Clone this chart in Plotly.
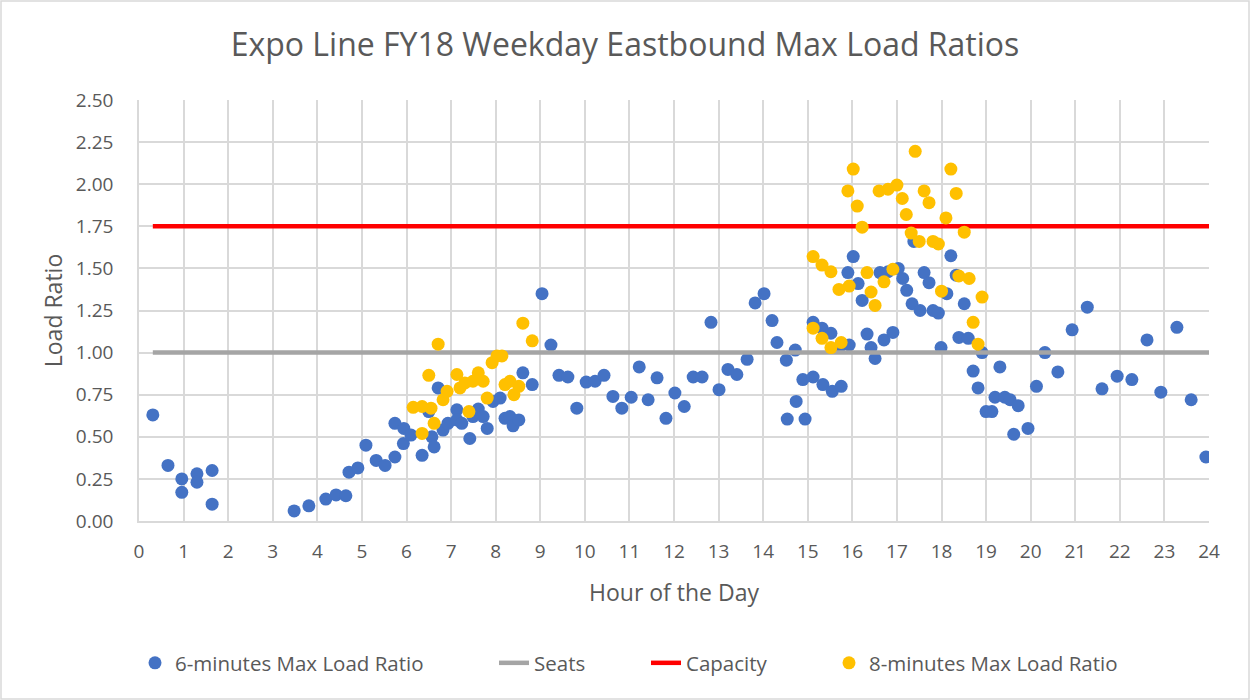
import plotly.graph_objects as go

# 6-minute max load ratio (hour, ratio)
six_x = [0.31, 0.65, 0.96, 0.96, 1.30, 1.30, 1.64, 1.64, 3.48, 3.81, 4.19, 4.42, 4.64, 4.71, 4.91,
         5.09, 5.32, 5.52, 5.74, 5.74, 5.94, 5.93, 6.10, 6.35, 6.50, 6.57, 6.62, 6.71, 6.82, 6.93,
         7.13, 7.13, 7.24, 7.42, 7.49, 7.61, 7.72, 7.81, 7.94, 8.10, 8.21, 8.32, 8.39, 8.52, 8.61,
         8.82, 9.04, 9.24, 9.42, 9.62, 9.82, 10.03, 10.23, 10.43, 10.63, 10.83, 11.04, 11.22, 11.42,
         11.62, 11.82, 12.02, 12.23, 12.43, 12.63, 12.83, 13.01, 13.21, 13.41, 13.64, 13.82, 14.02,
         14.20, 14.31, 14.52, 14.54, 14.72, 14.74, 14.89, 14.94, 15.12, 15.12, 15.32, 15.34, 15.52,
         15.55, 15.72, 15.75, 15.90, 15.93, 16.02, 16.13, 16.22, 16.33, 16.42, 16.51, 16.62, 16.71,
         16.80, 16.91, 17.03, 17.13, 17.22, 17.34, 17.38, 17.52, 17.61, 17.72, 17.81, 17.93, 17.99,
         18.12, 18.21, 18.33, 18.39, 18.51, 18.60, 18.71, 18.82, 18.91, 19.00, 19.13, 19.20, 19.31,
         19.42, 19.54, 19.62, 19.72, 19.94, 20.13, 20.32, 20.61, 20.93, 21.27, 21.60, 21.94, 22.27,
         22.61, 22.92, 23.28, 23.60, 23.93]
six_y = [0.63, 0.33, 0.25, 0.17, 0.28, 0.23, 0.30, 0.10, 0.06, 0.09, 0.13, 0.155, 0.15, 0.29, 0.315,
         0.45, 0.36, 0.33, 0.38, 0.58, 0.55, 0.46, 0.51, 0.39, 0.65, 0.50, 0.44, 0.79, 0.54, 0.58,
         0.66, 0.60, 0.58, 0.49, 0.62, 0.665, 0.62, 0.55, 0.71, 0.73, 0.61, 0.62, 0.565, 0.60, 0.88,
         0.81, 1.35, 1.045, 0.865, 0.855, 0.67, 0.825, 0.83, 0.865, 0.74, 0.67, 0.735, 0.915, 0.72,
         0.85, 0.61, 0.76, 0.68, 0.855, 0.855, 1.18, 0.78, 0.90, 0.87, 0.96, 1.295, 1.35,
         1.19, 1.06, 0.955, 0.605, 1.015, 0.71, 0.84, 0.605, 1.18, 0.855, 1.145, 0.81, 1.115,
         0.77, 1.035, 0.80, 1.475, 1.045, 1.57, 1.41, 1.31, 1.11, 1.03, 0.965, 1.475, 1.075,
         1.48, 1.12, 1.50, 1.44, 1.37, 1.29, 1.66, 1.25, 1.475, 1.415, 1.25, 1.235, 1.03,
         1.35, 1.575, 1.46, 1.09, 1.29, 1.085, 0.89, 0.79, 1.00, 0.65, 0.65, 0.735, 0.915,
         0.735, 0.72, 0.515, 0.685, 0.55, 0.80, 1.00, 0.885, 1.135, 1.27, 0.785, 0.86, 0.84,
         1.075, 0.765, 1.15, 0.72, 0.38]

# 8-minute max load ratio
eight_x = [6.15, 6.35, 6.35, 6.50, 6.55, 6.62, 6.71, 6.82, 6.91, 7.13, 7.20, 7.31, 7.40, 7.49, 7.61,
           7.72, 7.81, 7.92, 8.03, 8.14, 8.21, 8.32, 8.41, 8.52, 8.61, 8.82,
           15.12, 15.12, 15.32, 15.32, 15.52, 15.52, 15.70, 15.75, 15.90, 15.93, 16.02, 16.11, 16.22,
           16.33, 16.42, 16.51, 16.60, 16.71, 16.80, 16.91, 17.00, 17.12, 17.21, 17.32, 17.41, 17.50,
           17.61, 17.72, 17.81, 17.93, 18.00, 18.10, 18.21, 18.33, 18.39, 18.51, 18.62, 18.71, 18.82,
           18.91]
eight_y = [0.675, 0.68, 0.52, 0.865, 0.67, 0.58, 1.05, 0.72, 0.77, 0.87, 0.79, 0.82, 0.65, 0.83, 0.88,
           0.83, 0.73, 0.94, 0.98, 0.98, 0.81, 0.83, 0.75, 0.80, 1.175, 1.07,
           1.57, 1.145, 1.52, 1.085, 1.48, 1.03, 1.375, 1.06, 1.96, 1.395, 2.09, 1.87, 1.745,
           1.475, 1.36, 1.28, 1.96, 1.42, 1.97, 1.495, 1.995, 1.915, 1.82, 1.71, 2.195, 1.66,
           1.96, 1.89, 1.66, 1.645, 1.365, 1.80, 2.09, 1.945, 1.455, 1.715, 1.44, 1.18, 1.05,
           1.33]

seats_x = [0.31, 24]
seats_y = [1.0, 1.0]
capacity_x = [0.31, 24]
capacity_y = [1.75, 1.75]

x_ticks = list(range(0, 25))
y_ticks = [0, 0.25, 0.5, 0.75, 1.0, 1.25, 1.5, 1.75, 2.0, 2.25, 2.5]

FONT = "Open Sans"
TXT = "#595959"
GRID = "#D9D9D9"

L, R, T, B = 139, 41, 100, 179
pw, ph = 1250 - L - R, 700 - T - B


def px_x(p):
    return (p - L) / pw


LEG_Y = -(663 - (700 - B)) / ph

fig = go.Figure()
fig.add_trace(go.Scatter(x=six_x, y=six_y, mode="markers", name="6-minutes Max Load Ratio",
                         marker=dict(color="#4472C4", size=13), legend="legend"))
fig.add_trace(go.Scatter(x=seats_x, y=seats_y, mode="lines", name="Seats",
                         line=dict(color="#A5A5A5", width=4.5), legend="legend2"))
fig.add_trace(go.Scatter(x=capacity_x, y=capacity_y, mode="lines", name="Capacity",
                         line=dict(color="#FF0000", width=4.5), legend="legend3"))
fig.add_trace(go.Scatter(x=eight_x, y=eight_y, mode="markers", name="8-minutes Max Load Ratio",
                         marker=dict(color="#FFC000", size=13), legend="legend4"))

leg_common = dict(orientation="h", yanchor="middle", y=LEG_Y, xanchor="left",
                  font=dict(size=20.5, color=TXT, family=FONT), bgcolor="rgba(0,0,0,0)")

fig.update_layout(
    width=1250, height=700,
    margin=dict(l=L, r=R, t=T, b=B),
    paper_bgcolor="white", plot_bgcolor="white",
    font=dict(family=FONT, color=TXT),
    title=dict(text="Expo Line FY18 Weekday Eastbound Max Load Ratios",
               x=0.5, xanchor="center", y=1 - 45 / 700, yanchor="middle",
               font=dict(size=32, color=TXT, family=FONT)),
    showlegend=True,
    legend=dict(x=px_x(135), **leg_common),
    legend2=dict(x=px_x(494), **leg_common),
    legend3=dict(x=px_x(646), **leg_common),
    legend4=dict(x=px_x(829), **leg_common),
    xaxis=dict(range=[0, 24], tickvals=x_ticks, ticktext=[str(v) for v in x_ticks],
               showgrid=True, gridcolor=GRID, gridwidth=1.5, zeroline=False,
               showline=True, linecolor=GRID, linewidth=1.5,
               tickfont=dict(size=19, color=TXT), ticks="", ticklabelstandoff=12,
               title=dict(text="Hour of the Day", font=dict(size=23, color=TXT), standoff=22)),
    yaxis=dict(range=[0, 2.5], tickvals=y_ticks, tickformat=".2f",
               showgrid=True, gridcolor=GRID, gridwidth=1.5, zeroline=False,
               showline=True, linecolor=GRID, linewidth=1.5,
               tickfont=dict(size=19, color=TXT), ticks="", ticklabelstandoff=20,
               title=dict(text="Load Ratio", font=dict(size=23, color=TXT), standoff=7)),
)

fig.add_shape(type="rect", xref="paper", yref="paper",
              x0=-(L - 1) / pw, x1=1 + (R - 1) / pw, y0=-(B - 1) / ph, y1=1 + (T - 1) / ph,
              line=dict(color=GRID, width=1.5), fillcolor="rgba(0,0,0,0)", layer="below")

fig.write_html("out.html", config={"displayModeBar": False},
               post_script="document.body.style.margin='0px';")
